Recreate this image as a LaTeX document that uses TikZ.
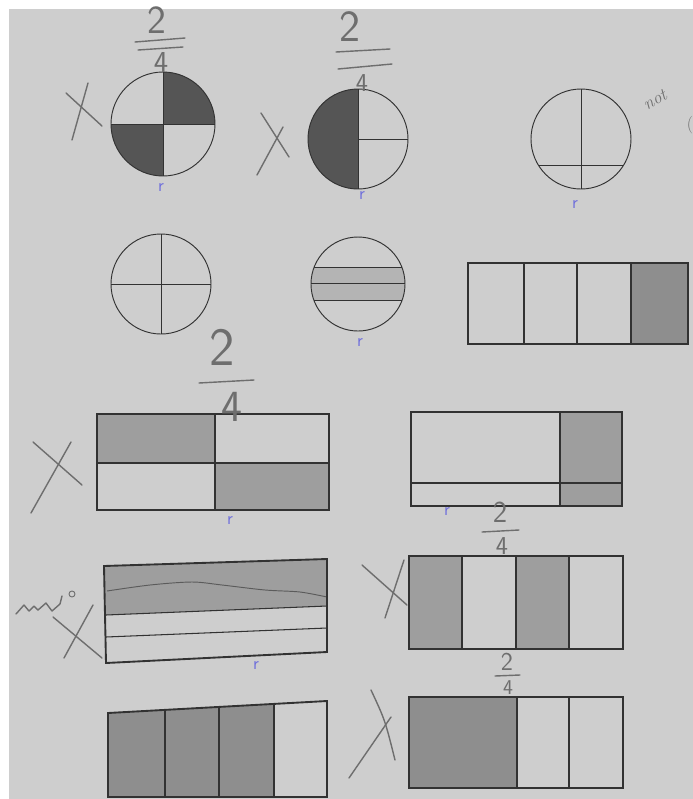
\documentclass[tikz,border=0pt]{standalone}
\usepackage{tikz}
\usetikzlibrary{calc}
\definecolor{paperc}{RGB}{206,206,206}
\definecolor{inkc}{RGB}{50,50,50}
\definecolor{darkc}{RGB}{85,85,85}
\definecolor{midc}{RGB}{158,158,158}
\definecolor{deepc}{RGB}{142,142,142}
\definecolor{lightc}{RGB}{180,180,180}
\definecolor{pencilc}{RGB}{110,110,110}
\definecolor{tickc}{RGB}{110,110,220}
\tikzset{
  edge/.style={draw=inkc,line width=0.8pt},
  frame/.style={draw=inkc,line width=1.6pt,line join=miter},
  split/.style={draw=inkc,line width=0.9pt},
  pencil/.style={draw=pencilc,line width=1.2pt,line cap=round,line join=round},
  tickmark/.style={text=tickc,font=\sffamily\fontsize{15}{15}\selectfont,inner sep=0pt},
  digit/.style={text=pencilc,font=\sffamily,inner sep=0pt},
}
\begin{document}
\begin{tikzpicture}[x=0.03cm,y=-0.03cm]
  \useasboundingbox (0,0) rectangle (693,799);
  % paper
  \fill[white] (0,0) rectangle (693,799);
  \fill[paperc] (9,9) rectangle (693,799);

  % circles, top row
  \coordinate (c1) at (163,124); \coordinate (c2) at (358,139); \coordinate (c3) at (581,139);
  \begin{scope} \clip (c1) circle (52);
    \fill[darkc] (163,72) rectangle (215,124); \fill[darkc] (111,124) rectangle (163,176);
  \end{scope}
  \draw[edge] (c1) circle (52); \draw[edge] (163,72)--(163,176); \draw[edge] (111,124)--(215,124);
  \begin{scope} \clip (c2) circle (50);
    \fill[darkc] (308,89) rectangle (358,189);
  \end{scope}
  \draw[edge] (c2) circle (50); \draw[edge] (358,89)--(358,189); \draw[edge] (358,139)--(408,139);
  \begin{scope} \clip (c3) circle (50);
    \draw[edge] (520,165)--(640,165);
  \end{scope}
  \draw[edge] (c3) circle (50); \draw[edge] (581,89)--(581,189);

  % circles, second row
  \coordinate (c4) at (161,284); \coordinate (c5) at (358,284);
  \draw[edge] (c4) circle (50); \draw[edge] (161,234)--(161,334); \draw[edge] (111,284)--(211,284);
  \begin{scope} \clip (c5) circle (47);
    \fill[lightc] (300,267) rectangle (420,300);
    \foreach \y in {267,283,300}{ \draw[edge] (300,\y)--(420,\y); }
  \end{scope}
  \draw[edge] (c5) circle (47);

  % strip bar
  \fill[deepc] (631,263) rectangle (688,344);
  \foreach \x in {524,577,631}{ \draw[split] (\x,263)--(\x,344); }
  \draw[frame] (468,263) rectangle (688,344);

  % 2 by 2 bar
  \fill[midc] (97,414) rectangle (215,463); \fill[midc] (215,463) rectangle (329,510);
  \draw[split] (215,414)--(215,510); \draw[split] (97,463)--(329,463);
  \draw[frame] (97,414) rectangle (329,510);

  % column bar
  \fill[midc] (560,412) rectangle (622,506);
  \draw[split] (560,412)--(560,506); \draw[split] (411,483)--(622,483);
  \draw[frame] (411,412) rectangle (622,506);

  % tilted bar with wave
  \fill[midc] (104,566) -- (327,559) -- (327,606) -- (106,615) -- cycle;
  \draw[split] (106,615)--(327,606); \draw[split] (106,637)--(327,628);
  \draw[edge,draw=inkc!80] plot[smooth] coordinates {(107,591) (150,585) (192,582) (222,585) (265,590) (300,592) (327,597)};
  \draw[frame] (104,566) -- (327,559) -- (327,652) -- (106,663) -- cycle;

  % four strips
  \fill[midc] (409,556) rectangle (462,649); \fill[midc] (516,556) rectangle (569,649);
  \foreach \x in {462,516,569}{ \draw[split] (\x,556)--(\x,649); }
  \draw[frame] (409,556) rectangle (623,649);

  % bottom left bar
  \fill[deepc] (108,713) -- (274,704) -- (274,797) -- (108,797) -- cycle;
  \draw[split] (165,710)--(165,797); \draw[split] (219,707)--(219,797); \draw[split] (274,704)--(274,797);
  \draw[frame] (108,797) -- (108,713) -- (327,701) -- (327,797) -- cycle;

  % bottom right bar
  \fill[deepc] (409,697) rectangle (517,788);
  \foreach \x in {517,569}{ \draw[split] (\x,697)--(\x,788); }
  \draw[frame] (409,697) rectangle (623,788);

  % pencil crosses
  \draw[pencil] (66,93)--(102,126); \draw[pencil] (88,83)--(72,140);
  \draw[pencil] (261,113)--(289,157); \draw[pencil] (283,127)--(257,175);
  \draw[pencil] (33,442)--(82,485); \draw[pencil] (71,442)--(31,513);
  \draw[pencil] (93,605)--(64,658); \draw[pencil] (53,617)--(102,658);
  \draw[pencil] (362,565)--(407,605); \draw[pencil] (404,560)--(385,618);
  \draw[pencil] (371,690) .. controls (385,720) .. (395,760); \draw[pencil] (391,717)--(349,778);
  \draw[pencil] (16,614) -- (24,605) -- (29,611) -- (34,606) -- (38,610) -- (46,603) -- (52,611) -- (60,604) -- (62,596);
  \draw[pencil,line width=0.8pt] (72,594) circle (3);

  % pencil fractions
  \node[digit,font=\sffamily\fontsize{34}{34}\selectfont] (n1) at (157,20) {2};
  \draw[pencil] (135,42)--(185,38); \draw[pencil] (138,50)--(183,47);
  \node[digit,font=\sffamily\fontsize{26}{26}\selectfont] (d1) at (161,63) {4};
  \node[digit,font=\sffamily\fontsize{38}{38}\selectfont] (n2) at (350,27) {2};
  \draw[pencil] (336,52)--(390,49); \draw[pencil] (338,69)--(392,64);
  \node[digit,font=\sffamily\fontsize{22}{22}\selectfont] (d2) at (362,83) {4};
  \node[digit,font=\sffamily\fontsize{46}{46}\selectfont] (n3) at (222,347) {2};
  \draw[pencil] (199,383)--(254,380);
  \node[digit,font=\sffamily\fontsize{38}{38}\selectfont] (d3) at (232,407) {4};
  \node[digit,font=\sffamily\fontsize{26}{26}\selectfont] (n4) at (500,512) {2};
  \draw[pencil] (482,532)--(519,530);
  \node[digit,font=\sffamily\fontsize{22}{22}\selectfont] (d4) at (502,546) {4};
  \node[digit,font=\sffamily\fontsize{22}{22}\selectfont] (n5) at (507,662) {2};
  \draw[pencil] (495,676)--(520,675);
  \node[digit,font=\sffamily\fontsize{18}{18}\selectfont] (d5) at (508,688) {4};

  % note
  \node[digit,font=\itshape\fontsize{15}{15}\selectfont,rotate=30] (note) at (655,100) {not};
  \node[digit,font=\fontsize{15}{15}\selectfont] (note2) at (690,125) {(};

  % blue ticks
  \foreach \i/\x/\y in {1/161/188, 2/362/196, 3/575/205, 4/360/343, 5/230/521, 6/447/512, 7/256/666}{
     \node[tickmark] (t\i) at (\x,\y) {r}; }
\end{tikzpicture}
\end{document}
